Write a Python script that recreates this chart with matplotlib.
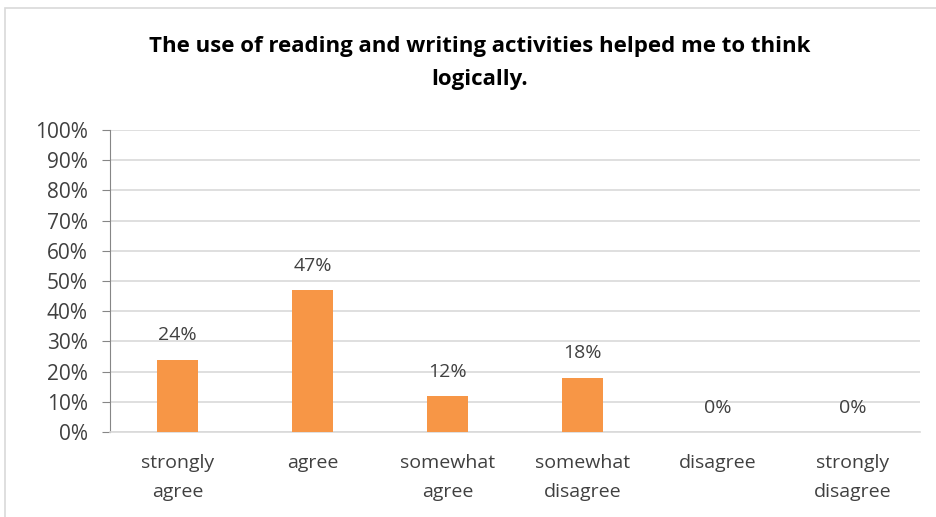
import matplotlib
matplotlib.use("Agg")
import matplotlib.pyplot as plt
from matplotlib.patches import Rectangle
from matplotlib.ticker import PercentFormatter

categories = ["strongly\nagree", "agree", "somewhat\nagree", "somewhat\ndisagree", "disagree", "strongly\ndisagree"]
values = [24, 47, 12, 18, 0, 0]
yticks = [0, 10, 20, 30, 40, 50, 60, 70, 80, 90, 100]
title = "The use of reading and writing activities helped me to think\nlogically."

plt.rcParams['font.family'] = ['Liberation Sans Narrow', 'Open Sans', 'DejaVu Sans']

fig = plt.figure(figsize=(9.36, 5.17), dpi=100)
fig.patches.append(Rectangle((5/936, -0.1), 1.1, 1 - 8/517 + 0.1, transform=fig.transFigure,
                             fill=False, edgecolor='#d9d9d9', linewidth=1.2))
ax = fig.add_axes([110/936, 1 - 432/517, 810/936, (432 - 130)/517])

x = list(range(len(categories)))
bars = ax.bar(x, values, width=0.31, color='#f79646', zorder=3)
for xi, v in zip(x, values):
    ax.text(xi, v + 8.0, f"{v}%", ha='center', va='center', fontsize=14, color='#404040')

ax.set_xlim(-0.5, len(categories) - 0.5)
ax.set_ylim(0, 100)
ax.set_yticks(yticks)
ax.yaxis.set_major_formatter(PercentFormatter(decimals=0))
ax.set_xticks(x)
ax.set_xticklabels(categories, fontsize=14, color='#404040', linespacing=1.8)
ax.tick_params(axis='y', labelsize=15, labelcolor='#404040', color='#868686', length=6, pad=10)
ax.tick_params(axis='x', length=0, pad=16)
ax.grid(axis='y', color='#d9d9d9', linewidth=1.2, zorder=0)
for s in ['top', 'right']:
    ax.spines[s].set_visible(False)
ax.spines['left'].set_color('#868686')
ax.spines['bottom'].set_color('#d9d9d9')
ax.spines['bottom'].set_linewidth(1.2)

fig.text(480/936, 1 - 63/517, title, ha='center', va='center', fontsize=16, fontweight='bold',
         color='black', linespacing=1.75)

fig.savefig("out.png", dpi=100)
